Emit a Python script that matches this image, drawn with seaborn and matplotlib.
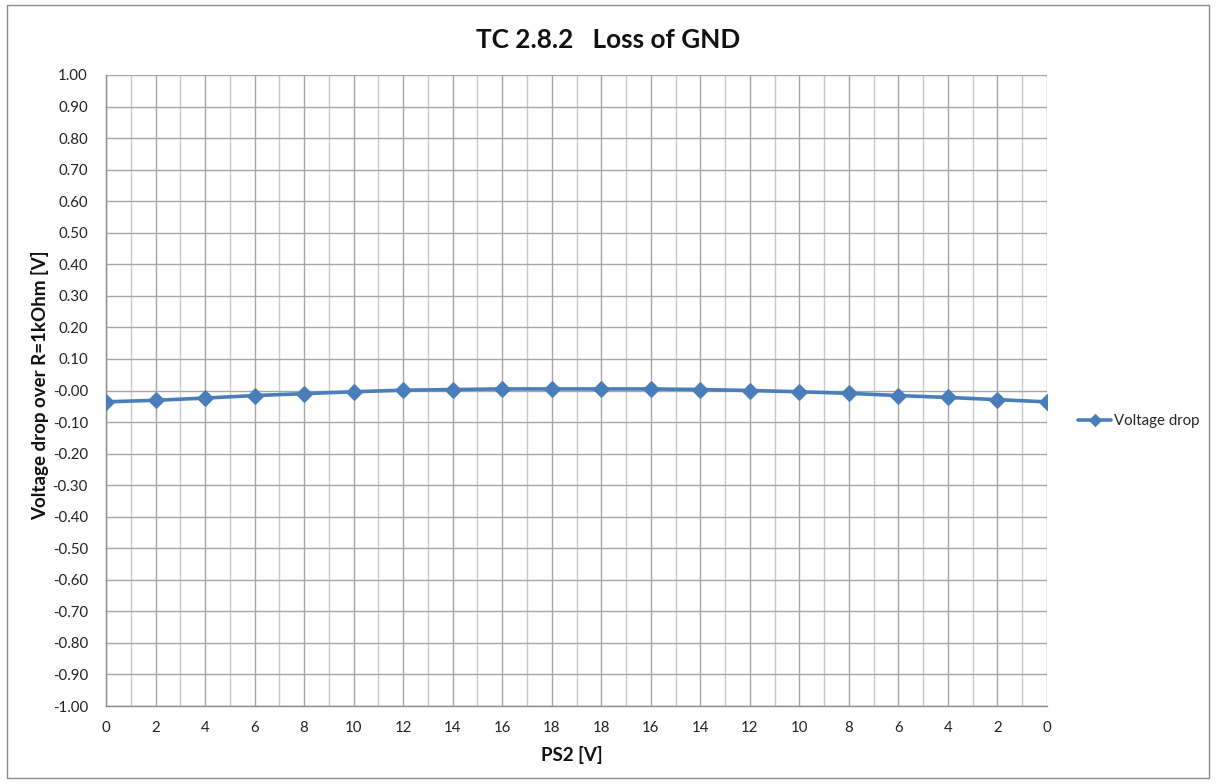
import matplotlib
matplotlib.use("Agg")
import matplotlib.pyplot as plt
import seaborn as sns
import numpy as np
import pandas as pd
from matplotlib.ticker import MultipleLocator, FixedLocator
from matplotlib.patches import Rectangle

ps2_labels = ["0", "2", "4", "6", "8", "10", "12", "14", "16", "18",
              "18", "16", "14", "12", "10", "8", "6", "4", "2", "0"]
voltage_drop = [-0.036, -0.031, -0.024, -0.016, -0.010, -0.004, 0.001, 0.003, 0.005, 0.005,
                0.005, 0.005, 0.003, 0.000, -0.004, -0.009, -0.016, -0.022, -0.029, -0.036]
y_ticks = [round(v, 2) for v in np.arange(-1.0, 1.0001, 0.1)]

sns.set_theme(style="white")
plt.rcParams['font.family'] = ['Lato', 'DejaVu Sans']

df = pd.DataFrame({"pos": np.arange(len(ps2_labels)), "val": voltage_drop})

fig = plt.figure(figsize=(12.16, 7.84), dpi=100)
ax = fig.add_axes([106/1216, 1 - 706/784, (1047-106)/1216, (706-75)/784])

line_color = "#4A7EBB"
sns.lineplot(data=df, x="pos", y="val", ax=ax, color=line_color, linewidth=2.6,
             marker="D", markersize=8, markeredgecolor=line_color, label="Voltage drop",
             zorder=5)

ax.set_xlim(0, len(ps2_labels) - 1)
ax.set_ylim(-1.0, 1.0)
ax.yaxis.set_major_locator(FixedLocator(y_ticks))
ax.set_yticklabels([f"{v:.2f}" for v in y_ticks])
ax.xaxis.set_major_locator(FixedLocator(list(range(len(ps2_labels)))))
ax.set_xticklabels(ps2_labels)
ax.xaxis.set_minor_locator(MultipleLocator(0.5))

ax.grid(True, which="major", axis="both", color="#a6a6a6", linewidth=1.0)
ax.grid(True, which="minor", axis="x", color="#c8c8c8", linewidth=1.0)
ax.set_axisbelow(True)

for side in ["top", "right"]:
    ax.spines[side].set_visible(False)
for side in ["left", "bottom"]:
    ax.spines[side].set_color("#8c8c8c")
    ax.spines[side].set_linewidth(1.0)

ax.tick_params(axis="both", which="major", direction="out", length=5, width=1,
               color="#8c8c8c", labelsize=10.8, labelcolor="#222222")
ax.tick_params(axis="x", which="minor", length=0)
ax.tick_params(axis="x", pad=6)
ax.tick_params(axis="y", pad=8)

ax.set_xlabel("PS2 [V]", fontsize=13.5, fontweight="bold", color="#111111")
ax.xaxis.set_label_coords((572 - 106) / 941, -(755 - 706) / 631)
ax.set_ylabel("Voltage drop over R=1kOhm [V]", fontsize=13.5, fontweight="bold",
              color="#111111")
ax.yaxis.set_label_coords((40 - 106) / 941, (706 - 385) / 631)
ax.yaxis.label.set_verticalalignment("center")
ax.xaxis.label.set_verticalalignment("center")

fig.text(0.5, 1 - 40/784, "TC 2.8.2   Loss of GND",
         ha="center", va="center", fontsize=18.8, fontweight="bold", color="#111111")

leg = ax.legend(loc="center left", bbox_to_anchor=(1.027, (706 - 421) / 631),
                frameon=False, fontsize=10.8, handlelength=2.2, handletextpad=0.15,
                borderaxespad=0)
for h in leg.legend_handles:
    h.set_markersize(6)

fig.patches.append(Rectangle((7/1216, 1 - 778/784), (1209-7)/1216, (778-5)/784,
                             transform=fig.transFigure, fill=False,
                             edgecolor="#8c8c8c", linewidth=1.0))

fig.savefig("out.png", dpi=100, facecolor="white")
